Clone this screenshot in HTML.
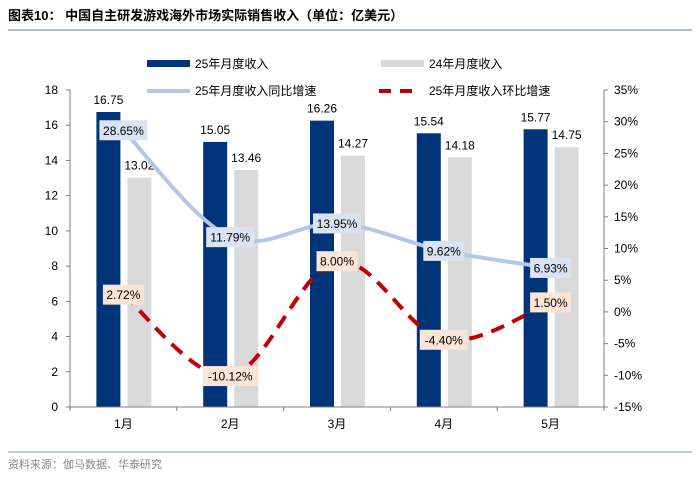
<!DOCTYPE html>
<html><head><meta charset="utf-8"><style>
body{margin:0;background:#fff;width:700px;height:476px;overflow:hidden;font-family:"Liberation Sans","Noto Sans CJK SC",sans-serif}
</style></head><body>
<svg id="c" width="700" height="476" xmlns="http://www.w3.org/2000/svg" font-family="Liberation Sans, Noto Sans CJK SC, sans-serif">
<text x="8" y="20" font-size="13" font-weight="bold" fill="#000">图表10：  中国自主研发游戏海外市场实际销售收入（单位：亿美元）</text>
<line x1="8" y1="30" x2="692" y2="30" stroke="#a9bdd8" stroke-width="2"/>
<line x1="8" y1="452" x2="692" y2="452" stroke="#a9bdd8" stroke-width="1.5"/>
<text x="8" y="468" font-size="11" fill="#888">资料来源：伽马数据、华泰研究</text>
<g>
<g><rect x="147" y="60" width="43" height="7" fill="#003478"/><text x="195" y="68" font-size="12">25年月度收入</text></g>
<g><rect x="381" y="60" width="43" height="7" fill="#d9d9d9"/><text x="429" y="68" font-size="12">24年月度收入</text></g>
<g><line x1="147" y1="91" x2="190" y2="91" stroke="#b4c7e7" stroke-width="4"/><text x="195" y="95" font-size="12">25年月度收入同比增速</text></g>
<g><line x1="379" y1="91" x2="420" y2="91" stroke="#c00000" stroke-width="4" stroke-dasharray="12,9"/><text x="429" y="95" font-size="12">25年月度收入环比增速</text></g>
</g>
<g id="plot"></g>
</svg>
<script>
const categories=["1月","2月","3月","4月","5月"];
const rev25=[16.75,15.05,16.26,15.54,15.77];
const rev24=[13.02,13.46,14.27,14.18,14.75];
const yoy=[28.65,11.79,13.95,9.62,6.93];
const mom=[2.72,-10.12,8.00,-4.40,1.50];
const leftTicks=[0,2,4,6,8,10,12,14,16,18];
const rightTicks=[-15,-10,-5,0,5,10,15,20,25,30,35];
const X0=70,X1=604,Y0=407,Y1=90;
const NS="http://www.w3.org/2000/svg";
const g=document.getElementById('plot');
const band=(X1-X0)/categories.length;
const xc=i=>X0+band*(i+0.5);
const yL=v=>Y0-(v-0)/(18-0)*(Y0-Y1);
const yR=v=>Y0-(v+15)/(50)*(Y0-Y1);
function el(t,a,p){const e=document.createElementNS(NS,t);for(const k in a)e.setAttribute(k,a[k]);(p||g).appendChild(e);return e;}
// axes
const axL=el('line',{x1:X0,y1:Y1,x2:X0,y2:Y0,stroke:'#808080'});


const axR=el('line',{x1:X1,y1:Y1,x2:X1,y2:Y0,stroke:'#808080'});


leftTicks.forEach(v=>{const y=yL(v);el('line',{x1:X0-4,y1:y,x2:X0,y2:y,stroke:'#808080'});
const t=el('text',{x:X0-12,y:y+4,'font-size':12,'text-anchor':'end'});t.textContent=v;

});
rightTicks.forEach(v=>{const y=yR(v);el('line',{x1:X1,y1:y,x2:X1+4,y2:y,stroke:'#808080'});
const t=el('text',{x:X1+10,y:y+4,'font-size':12});t.textContent=v+'%';

});
// bars
categories.forEach((c,i)=>{
const b1=el('rect',{x:xc(i)-27,y:yL(rev25[i]),width:24,height:Y0-yL(rev25[i]),fill:'#003478'});


const b2=el('rect',{x:xc(i)+4,y:yL(rev24[i]),width:24,height:Y0-yL(rev24[i]),fill:'#d9d9d9'});


const l1=el('text',{x:xc(i)-15,y:yL(rev25[i])-8,'font-size':12,'text-anchor':'middle'});l1.textContent=rev25[i].toFixed(2);


const l2=el('text',{x:xc(i)+16,y:yL(rev24[i])-8,'font-size':12,'text-anchor':'middle'});l2.textContent=rev24[i].toFixed(2);


});
el('line',{x1:X0,y1:Y0,x2:X1,y2:Y0,stroke:'#808080'});
categories.forEach((c,i)=>{
el('line',{x1:X0+band*i,y1:Y0,x2:X0+band*i,y2:Y0+4,stroke:'#808080'});
const t=el('text',{x:xc(i),y:Y0+21,'font-size':12,'text-anchor':'middle'});t.textContent=c;

});
el('line',{x1:X1,y1:Y0,x2:X1,y2:Y0+4,stroke:'#808080'});
function smooth(pts){let d='M'+pts[0][0]+','+pts[0][1];
for(let i=0;i<pts.length-1;i++){const p0=pts[i-1]||pts[i],p1=pts[i],p2=pts[i+1],p3=pts[i+2]||p2;
d+=' C'+(p1[0]+(p2[0]-p0[0])/6)+','+(p1[1]+(p2[1]-p0[1])/6)+' '+(p2[0]-(p3[0]-p1[0])/6)+','+(p2[1]-(p3[1]-p1[1])/6)+' '+p2[0]+','+p2[1];}return d;}
const yl=el('path',{d:smooth(yoy.map((v,i)=>[xc(i),yR(v)])),fill:'none',stroke:'#b4c7e7','stroke-width':4});


const ml=el('path',{d:smooth(mom.map((v,i)=>[xc(i),yR(v)])),fill:'none',stroke:'#c00000','stroke-width':4,'stroke-dasharray':'14,9'});


function lab(v,i,fill,name){const s=v.toFixed(2)+'%';const w=s.length*7+6;const y=yR(v);
const r=el('rect',{x:xc(i)-w/2,y:y-10,width:w,height:20,fill:fill});


const t=el('text',{x:xc(i),y:y+4.5,'font-size':12,'text-anchor':'middle'});t.textContent=s;

}
yoy.forEach((v,i)=>lab(v,i,'#dae3f3','yoy-label'));
mom.forEach((v,i)=>lab(v,i,'#fbe5d6','mom-label'));
</script>
</body></html>
